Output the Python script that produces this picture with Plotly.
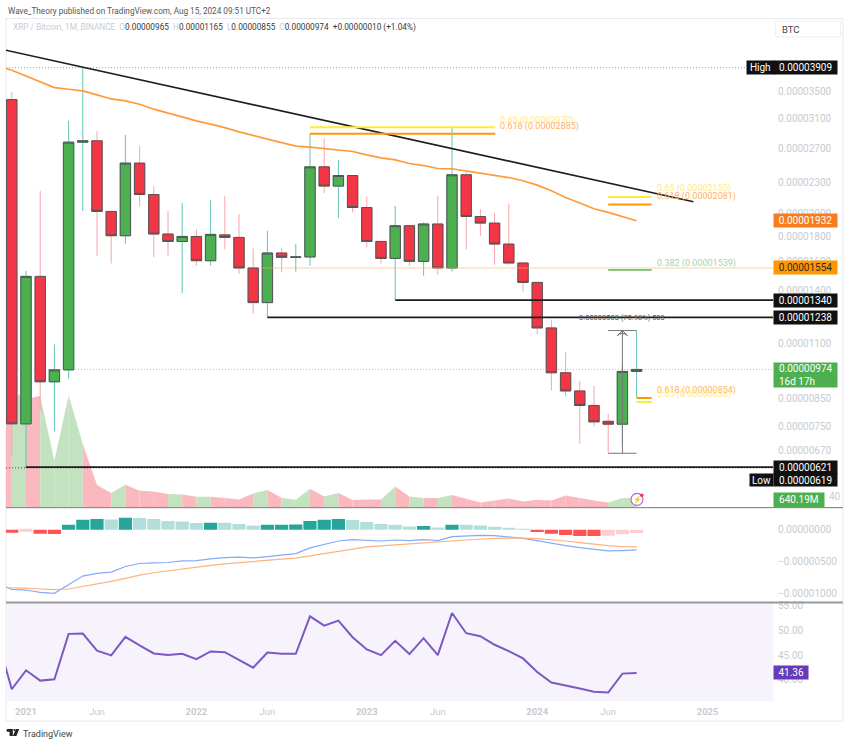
import math
import plotly.graph_objects as go

# ---------- data (prices in 1e-8 BTC) ----------
CANDLE_X = list(range(-1, 44))
OPEN = [3375, 758, 1495, 920, 972, 2774, 2791, 2016, 1803, 2519, 2180, 1817, 1756, 1797, 1607, 1810, 1789, 1554, 1325, 1665, 1632, 1635, 2476, 2266, 2379, 2053, 1756, 1624, 1888, 1602, 1903, 1554, 2387, 1970, 1911, 1735, 1590, 1454, 1179, 959, 882, 825, 767, 757, 965]
HIGH = [3496, 1533, 2217, 1093, 3060, 3909, 2918, 2016, 2869, 2727, 2266, 2020, 2098, 1859, 2127, 2167, 1992, 1700, 1845, 1704, 1735, 2882, 2821, 2554, 2379, 2160, 1756, 2067, 1888, 1917, 2167, 2977, 2431, 2038, 2004, 2092, 1590, 1454, 1225, 1053, 925, 903, 794, 1000, 1165]
LOW = [653, 619, 807, 732, 935, 2020, 1644, 1587, 1738, 2063, 1632, 1644, 1383, 1570, 1570, 1693, 1512, 1258, 1238, 1523, 1528, 1570, 2194, 1956, 2007, 1708, 1585, 1341, 1570, 1500, 1507, 1528, 1693, 1800, 1578, 1578, 1393, 1145, 884, 861, 692, 750, 662, 692, 855]
CLOSE = [758, 1495, 920, 972, 2774, 2791, 2016, 1803, 2519, 2180, 1817, 1756, 1797, 1607, 1814, 1789, 1554, 1325, 1665, 1632, 1635, 2476, 2266, 2379, 2053, 1756, 1624, 1888, 1602, 1903, 1554, 2387, 1970, 1911, 1735, 1590, 1454, 1179, 959, 882, 825, 765, 757, 965, 974]

LINE_X = list(range(-2, 44))
MA_LINE = [3940, 3863, 3763, 3661, 3566, 3540, 3513, 3449, 3385, 3355, 3304, 3229, 3170, 3106, 3060, 3014, 2967, 2909, 2856, 2813, 2769, 2724, 2711, 2693, 2678, 2657, 2617, 2581, 2557, 2514, 2491, 2457, 2454, 2431, 2409, 2387, 2357, 2322, 2276, 2217, 2150, 2096, 2041, 2007, 1970, 1932]
VOLUME_M = [3600, 8165, 7583, 7817, 3267, 7863, 4433, 1563, 1003, 1587, 1167, 1120, 933, 910, 747, 747, 653, 560, 980, 1213, 677, 537, 1307, 770, 1003, 513, 560, 560, 1470, 770, 653, 653, 863, 607, 350, 490, 630, 420, 537, 490, 840, 653, 490, 350, 653, 640.19]
MACD = [-840, -932, -943, -979, -995, -855, -725, -684, -663, -575, -528, -518, -513, -487, -482, -456, -435, -430, -440, -420, -399, -373, -285, -228, -176, -155, -161, -176, -161, -171, -155, -171, -109, -93, -88, -93, -109, -135, -171, -212, -249, -280, -311, -332, -326, -316]
SIGNAL = [-905, -907, -912, -927, -938, -927, -891, -850, -808, -761, -710, -673, -642, -611, -585, -559, -534, -513, -497, -477, -461, -445, -409, -373, -337, -295, -269, -254, -238, -228, -207, -197, -171, -155, -145, -135, -130, -130, -140, -155, -176, -202, -228, -249, -264, -269]
HIST = [-47, -31, -62, -67, 78, 155, 166, 161, 186, 185, 166, 135, 130, 104, 109, 108, 88, 67, 78, 79, 80, 135, 155, 166, 150, 119, 88, 78, 52, 57, 36, 78, 77, 67, 47, 26, 5, -36, -62, -83, -98, -99, -93, -72, -52]
RSI = [48.15, 38.06, 41.9, 39.81, 40.08, 49.29, 49.35, 45.87, 44.92, 48.69, 46.94, 45.32, 44.98, 45.26, 44.17, 45.73, 45.58, 43.97, 42.44, 45.52, 45.26, 45.26, 52.84, 50.97, 51.98, 48.61, 46.13, 44.98, 47.88, 45.19, 48.41, 44.98, 53.53, 49.42, 48.82, 47.08, 45.79, 44.31, 41.56, 39.41, 38.73, 38.2, 37.53, 37.4, 41.23, 41.36]

TREND_X = [-1.41, 47]
TREND_Y = [4236, 2108]
HIGH_LEVEL, LOW_LEVEL, LAST_CLOSE, MA_LAST = 3909, 619, 974, 1932
LEVEL_VALUES = [1340, 1238, 621]
LEVEL_STARTS = [26, 17, 0]
THIN_LEVEL, THIN_LEVEL_START = 1554, 16.5
FIB_NAMES = ["0.65", "0.618", "0.65", "0.618", "0.382", "0.618", "0.65"]
FIB_VALUES = [2970, 2885, 2155, 2081, 1539, 854, 838]
FIB_STARTS = [20, 20, 41, 41, 41, 43, 43]
FIB_ENDS = [33.05, 33.05, 44.06, 44.06, 44.06, 44.06, 44.06]
MEASURE_LOW, MEASURE_HIGH = 662, 1165
PRICE_TICKS = [3500, 3100, 2700, 2300, 2000, 1800, 1600, 1400, 1100, 850, 750, 670]
MACD_TICKS = [0, -500, -1000]
MACD_LABELS = ["0.00000000", "\u22120.00000500", "\u22120.00001000"]
RSI_TICKS = [55, 50, 45, 40]
TIME_TICKS = [0, 5, 12, 17, 24, 29, 36, 41, 48]
TIME_LABELS = ["<b>2021</b>", "Jun", "<b>2022</b>", "Jun", "<b>2023</b>", "Jun", "<b>2024</b>", "Jun", "<b>2025</b>"]

# ---------- layout helpers ----------
W, H = 850, 744
FONT = "Roboto"
PX = lambda x: x / W
PY = lambda y: 1 - (y - 2 * (1 - y / 720)) / H
L, R = 6, 773
log = math.log10
sat = lambda v: f"0.{v:08d}"

RED, GREEN = "#F23645", "#4CAF50"
WICK_R, WICK_G = "#F9A4AC", "#63C5B4"
BORDER = "#555555"
FIB_LINE = {"0.65": "#FFEB3B", "0.618": "#FF9800", "0.382": "#81C784"}
FIB_TEXT = {"0.65": "#FFE98A", "0.618": "#FFB266", "0.382": "#A5D6A7"}
FIB_SHIFT = [7, 7.5, 8, 8, 7, 7, 8]

fig = go.Figure()

# volume area (one filled piece per month, coloured by that month's candle)
for k in range(1, len(LINE_X)):
    up = CLOSE[k - 1] >= OPEN[k - 1]
    fig.add_trace(go.Scatter(
        x=LINE_X[k - 1:k + 1], y=VOLUME_M[k - 1:k + 1], yaxis="y", mode="lines",
        line=dict(width=0), fill="tozeroy", fillcolor="#C3E2C0" if up else "#F9B9BF"))


def pline(x, y, color, width=1, dash=None):
    fig.add_trace(go.Scatter(x=x, y=y, yaxis="y2", mode="lines",
                             line=dict(color=color, width=width, dash=dash)))


# dotted references
pline([TREND_X[0], 53], [HIGH_LEVEL] * 2, "#9a9a9a", 1, "1px,2px")
pline([TREND_X[0], 53], [LAST_CLOSE] * 2, "rgba(242,54,69,0.45)", 1, "1px,2px")
pline([TREND_X[0], 53], [LOW_LEVEL] * 2, "#444444", 1, "1px,2px")
# moving average
pline(LINE_X, MA_LINE, "#FF9A3C", 1.7)
# levels
pline([THIN_LEVEL_START, 53], [THIN_LEVEL] * 2, "rgba(255,176,100,0.75)", 0.8)
for lv, start in zip(LEVEL_VALUES, LEVEL_STARTS):
    pline([start, 53], [lv, lv], "#1c1c1c", 1.8)
# measure tool
pline([42, 42], [MEASURE_LOW, MEASURE_HIGH], "#777777", 1)
pline([41, 43], [MEASURE_HIGH, MEASURE_HIGH], "#777777", 1)
pline([41, 43], [MEASURE_LOW, MEASURE_LOW], "#777777", 1)
fig.add_trace(go.Scatter(x=[42], y=[MEASURE_HIGH], yaxis="y2", mode="markers",
                         marker=dict(symbol="arrow-wide-open", size=7, color="#666666",
                                     line=dict(color="#666666", width=1))))

# candles: wicks first, then bodies with the dark outline
fig.add_trace(go.Candlestick(
    x=CANDLE_X, open=OPEN, high=HIGH, low=LOW, close=CLOSE, yaxis="y2", whiskerwidth=0,
    increasing=dict(line=dict(color=WICK_G, width=1), fillcolor=GREEN),
    decreasing=dict(line=dict(color=WICK_R, width=1), fillcolor=RED)))
fig.add_trace(go.Candlestick(
    x=CANDLE_X, open=OPEN, close=CLOSE, yaxis="y2", whiskerwidth=0,
    high=[max(a, b) for a, b in zip(OPEN, CLOSE)],
    low=[min(a, b) for a, b in zip(OPEN, CLOSE)],
    increasing=dict(line=dict(color=BORDER, width=1), fillcolor=GREEN),
    decreasing=dict(line=dict(color=BORDER, width=1), fillcolor=RED)))

pline(TREND_X, TREND_Y, "#1f1f1f", 1.7)

# fib segments
for name, v, x0, x1 in zip(FIB_NAMES, FIB_VALUES, FIB_STARTS, FIB_ENDS):
    pline([x0, x1], [v, v], FIB_LINE[name], 2)

# MACD pane
hist_colors = []
for k, v in enumerate(HIST):
    prev = HIST[k - 1] if k else None
    if v >= 0:
        hist_colors.append("#26A69A" if prev is None or v > prev else "#B2DFDB")
    else:
        hist_colors.append("#FF5252" if prev is None or v < prev else "#FFCDD2")
fig.add_trace(go.Bar(x=CANDLE_X, y=HIST, yaxis="y3", marker=dict(color=hist_colors, line=dict(width=0)), width=0.93))
fig.add_trace(go.Scatter(x=LINE_X, y=MACD, yaxis="y3", mode="lines", line=dict(color="#86AAFB", width=1.2)))
fig.add_trace(go.Scatter(x=LINE_X, y=SIGNAL, yaxis="y3", mode="lines", line=dict(color="#FFB27A", width=1.2)))

# RSI pane
fig.add_trace(go.Scatter(x=LINE_X, y=RSI, yaxis="y4", mode="lines", line=dict(color="#7E57C2", width=2)))

tick_font = dict(family=FONT, size=10, color="#C8CAD0")
right_axis = dict(side="right", anchor="x", showgrid=False, zeroline=False, showline=False,
                  ticks="", tickmode="array", tickfont=tick_font, ticklabelstandoff=4)

shapes = [
    dict(type="rect", xref="paper", yref="paper", x0=PX(6), x1=PX(843), y0=PY(721), y1=PY(17.5),
         line=dict(color="#E8E9EE", width=1), layer="below"),
    dict(type="rect", xref="paper", yref="paper", x0=PX(L), x1=PX(R), y0=PY(701), y1=PY(602.5),
         fillcolor="#F6F3FC", line=dict(width=0), layer="below"),
    dict(type="line", xref="paper", yref="paper", x0=PX(6), x1=PX(843), y0=PY(507.3), y1=PY(507.3),
         line=dict(color="#777777", width=1)),
    dict(type="line", xref="paper", yref="paper", x0=PX(6), x1=PX(843), y0=PY(602.3), y1=PY(602.3),
         line=dict(color="#9A9A9A", width=2)),
    dict(type="rect", xref="paper", yref="paper", x0=PX(775.7), x1=PX(840.7), y0=PY(36), y1=PY(20),
         fillcolor="white", line=dict(color="#EEEEF1", width=1)),
    # alert icon
    dict(type="circle", xref="paper", yref="paper", x0=PX(631), x1=PX(643), y0=PY(505), y1=PY(493),
         fillcolor="white", line=dict(color="#B565D8", width=1.2)),
    dict(type="circle", xref="paper", yref="paper", x0=PX(640), x1=PX(643.5), y0=PY(496.5), y1=PY(493),
         fillcolor="#F23645", line=dict(width=0)),
]


def poly(pts, color):
    path = "M" + " L".join(f"{PX(x):.5f},{PY(y):.5f}" for x, y in pts) + " Z"
    shapes.append(dict(type="path", xref="paper", yref="paper", path=path, fillcolor=color, line=dict(width=0)))


# TradingView logo
poly([(6.7, 729), (12.8, 729), (12.8, 735.8), (9.6, 735.8), (9.6, 731.6), (6.7, 731.6)], "#222222")
poly([(13.5, 729), (15.2, 729), (15.2, 730.8), (13.5, 730.8)], "#222222")
poly([(15.8, 729), (19.2, 729), (16.4, 735.8), (12.9, 735.8)], "#222222")

ann = []


def note(x, y, text, size=8.5, color="#333", xanchor="left", **kw):
    ann.append(dict(x=PX(x), y=PY(y), xref="paper", yref="paper", text=text, showarrow=False,
                    xanchor=xanchor, yanchor="middle", font=dict(family=FONT, size=size, color=color),
                    borderpad=0, **kw))


def badge(x0, x1, level, text, bg, color="white", h=13, align="center", yref="y2"):
    ann.append(dict(x=PX(x0), y=log(level) if yref == "y2" else level, xref="paper", yref=yref, text=text,
                    showarrow=False, xanchor="left", yanchor="middle", width=x1 - x0, height=h, align=align,
                    bgcolor=bg, borderpad=0, font=dict(family=FONT, size=10, color=color)))


note(6.7, 10, "Wave_Theory published on TradingView.com, Aug 15, 2024 09:51 UTC+2", 8.2, "#555555")
G = '<span style="color:#C9CBD1">'
note(12, 27, f"{G}XRP / Bitcoin, 1M, BINANCE  O</span>0.00000965  {G}H</span>0.00001165  {G}L</span>0.00000855  "
             f"{G}C</span>0.00000974  +0.00000010 (+1.04%)", 8.25, "#3a3a3a")
note(781, 28.5, "BTC", 9.5, "#444444")
note(637, 499, "\u26a1", 7, "#A040C8", xanchor="center")
note(827.5, 496.5, "40", 10, "#C8CAD0")
note(22, 733.5, "TradingView", 9, "#444444")

badge(745.7, 772.2, HIGH_LEVEL, "High", "#111111")
badge(772.7, 835.7, HIGH_LEVEL, sat(HIGH_LEVEL), "#111111")
badge(772.7, 835.7, MA_LAST, sat(MA_LAST), "#F57C1F")
badge(772.7, 835.7, THIN_LEVEL, sat(THIN_LEVEL), "#FF9800", "#2a2a2a")
badge(772.7, 835.7, 1340, sat(1340), "#111111")
badge(772.7, 835.7, 1238, sat(1238), "#111111")
pad = "\u00a0\u00a0"
badge(772.7, 835.7, 950, f"{pad}{sat(LAST_CLOSE)}<br>{pad}16d 17h", GREEN, h=23.5, align="left")
badge(772.7, 835.7, 621, sat(621), "#111111")
# "Low" label is pushed under the 621 label in the reference
for x0, x1, txt in [(749.3, 772.2, "Low"), (772.7, 835.7, sat(LOW_LEVEL))]:
    ann.append(dict(x=PX(x0), y=PY(479.3), xref="paper", yref="paper", text=txt, showarrow=False, xanchor="left",
                    yanchor="middle", width=x1 - x0, height=12, align="center", bgcolor="#111111", borderpad=0,
                    font=dict(family=FONT, size=10, color="white")))
ann.append(dict(x=PX(772.7), y=PY(500), xref="paper", yref="paper", text="640.19M", showarrow=False, xanchor="left",
                yanchor="middle", width=49.5, height=13.5, align="center", bgcolor=GREEN, borderpad=0,
                font=dict(family=FONT, size=10, color="white")))
badge(772.7, 807, RSI[-1], f"{RSI[-1]:.2f}", "#673AB7", yref="y4")

for name, v, x1, s in zip(FIB_NAMES, FIB_VALUES, FIB_ENDS, FIB_SHIFT):
    ann.append(dict(x=x1 + 0.35, y=log(v), xref="x", yref="y2", text=f"{name} ({sat(v)})", showarrow=False,
                    xanchor="left", yanchor="middle", yshift=s, xshift=-2,
                    font=dict(family=FONT, size=9, color=FIB_TEXT[name])))
ann.append(dict(x=42, y=log(1238), xref="x", yref="y2", text="0.00000503 (75.98%) 503", showarrow=False,
                xanchor="center", yanchor="middle", font=dict(family=FONT, size=7.5, color="#555555")))

fig.update_layout(
    width=W, height=H, margin=dict(l=0, r=0, t=0, b=0), autosize=False,
    paper_bgcolor="white", plot_bgcolor="rgba(0,0,0,0)", showlegend=False, hovermode=False,
    font=dict(family=FONT), boxgap=0.27, boxgroupgap=0, barmode="overlay", dragmode=False,
    xaxis=dict(domain=[PX(L), PX(R)], range=[(L - 26) / 14.2, (R - 26) / 14.2], anchor="y4",
               rangeslider=dict(visible=False), showgrid=False, zeroline=False, showline=False,
               tickmode="array", tickvals=TIME_TICKS, ticktext=TIME_LABELS, ticks="", ticklabelstandoff=3,
               tickfont=dict(family=FONT, size=9.5, color="#C8CAD0")),
    yaxis=dict(domain=[PY(507), PY(18)], range=[0, 34230], visible=False),
    yaxis2=dict(right_axis, domain=[PY(507), PY(18)], overlaying="y", type="log",
                range=[log(516), log(4892)], tickvals=PRICE_TICKS, ticktext=[sat(v) for v in PRICE_TICKS]),
    yaxis3=dict(right_axis, domain=[PY(602), PY(507.5)], range=[-1134, 341.6],
                tickvals=MACD_TICKS, ticktext=MACD_LABELS),
    yaxis4=dict(right_axis, domain=[PY(701), PY(602.5)], range=[35.65, 55.6],
                tickvals=RSI_TICKS, ticktext=[f"{v:.2f}" for v in RSI_TICKS]),
    shapes=shapes, annotations=ann,
)

fig.write_html("out.html", post_script="document.body.style.margin='0';document.body.style.background='white';",
               config=dict(displayModeBar=False, responsive=False))
